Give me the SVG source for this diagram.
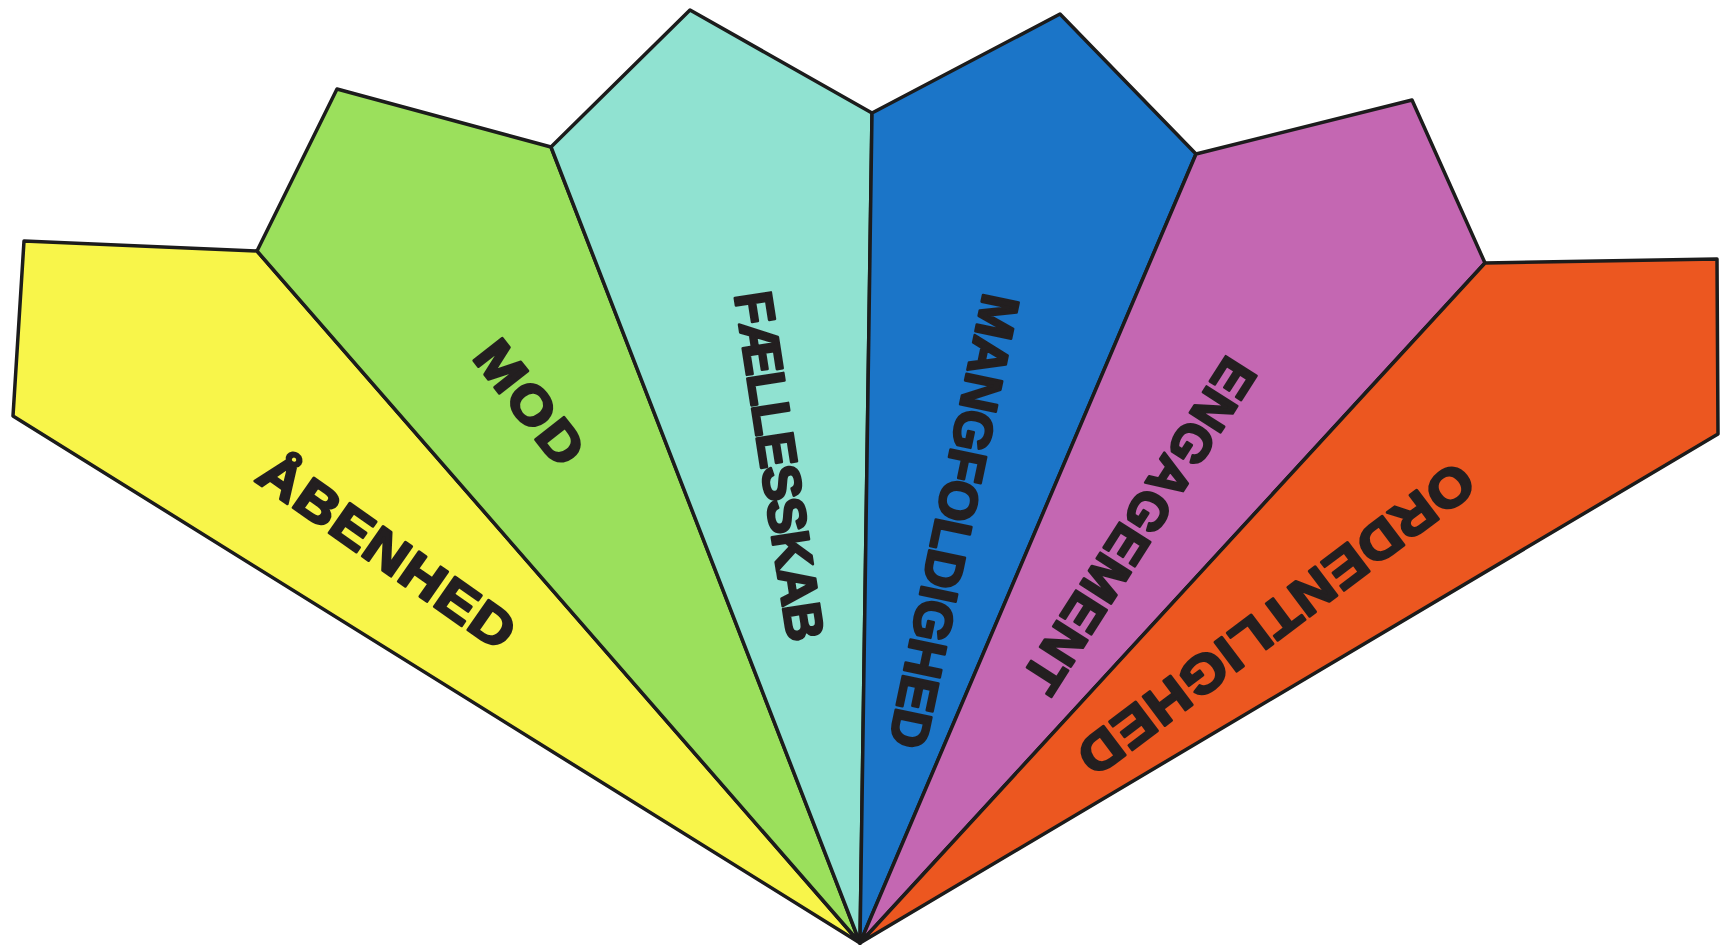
<svg xmlns="http://www.w3.org/2000/svg" width="1720" height="950" viewBox="0 0 1720 950">
  <style>
    .petal { stroke: #1c1c1c; stroke-width: 3.5; stroke-linejoin: round; }
    .lbl { font-family: "Liberation Sans", Arial, sans-serif; font-weight: bold; font-size: 53px; fill: #231f20; stroke: #231f20; stroke-width: 2.6; stroke-linejoin: round; text-anchor: middle; text-rendering: geometricPrecision; }
  </style>
  <rect width="1720" height="950" fill="#ffffff"/>
  <g id="abenhed">
    <polygon class="petal" fill="#f8f54a" points="860,943 13,416 24,241 257,251"/>
    <text class="lbl" transform="translate(388,551) rotate(35) scale(1.12,1)" dy="0.36em" letter-spacing="1">ÅBENHED</text>
  </g>
  <g id="mod">
    <polygon class="petal" fill="#9be05c" points="860,943 257,251 337,89 551,147"/>
    <text class="lbl" transform="translate(531,403) rotate(52) scale(1.12,1)" dy="0.36em" letter-spacing="2">MOD</text>
  </g>
  <g id="faellesskab">
    <polygon class="petal" fill="#90e2d1" points="860,943 551,147 690,10 872,113"/>
    <text class="lbl" transform="translate(780,465) rotate(81.2)" dy="0.36em" letter-spacing="-2">FÆLLESSKAB</text>
  </g>
  <g id="mangfoldighed">
    <polygon class="petal" fill="#1b75c8" points="860,943 872,113 1060,14 1196,154"/>
    <text class="lbl" transform="translate(955,521) rotate(101.9)" dy="0.36em" letter-spacing="-1">MANGFOLDIGHED</text>
  </g>
  <g id="engagement">
    <polygon class="petal" fill="#c467b2" points="860,943 1196,154 1412,100 1485,263"/>
    <text class="lbl" transform="translate(1140,526) rotate(122.6)" dy="0.36em" letter-spacing="0.6">ENGAGEMENT</text>
  </g>
  <g id="ordentlighed">
    <polygon class="petal" fill="#ec5720" points="860,943 1485,263 1717,259 1718,434"/>
    <text class="lbl" transform="translate(1276,620) rotate(143) scale(1.1,1)" dy="0.36em" letter-spacing="1.2">ORDENTLIGHED</text>
  </g>
  <g id="connectors"></g>
</svg>
